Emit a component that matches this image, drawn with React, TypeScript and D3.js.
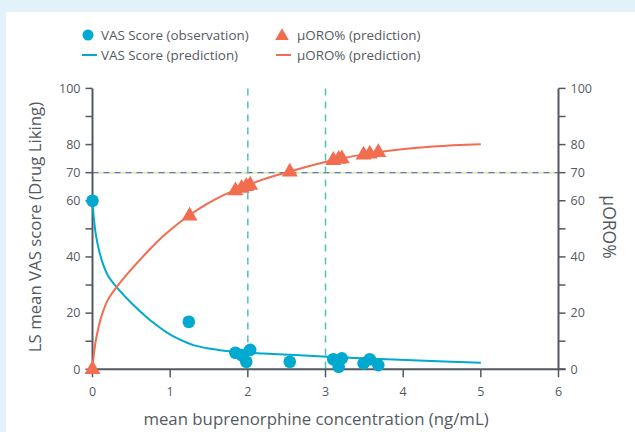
import React from "react";
import * as d3 from "d3";

const xTicks = [0, 1, 2, 3, 4, 5, 6];
const yTicksMajor = [0, 20, 40, 60, 70, 80, 100];
const yTicksAll = [0, 10, 20, 30, 40, 50, 60, 70, 80, 90, 100];

const vasObsConc = [0, 1.24, 1.84, 1.92, 1.98, 2.03, 2.54, 3.1, 3.17, 3.21, 3.49, 3.57, 3.68];
const vasObsValue = [60, 16.9, 5.9, 5.1, 2.7, 6.9, 2.7, 3.6, 0.9, 3.9, 2.1, 3.6, 1.5];

const oroPredConc = [0, 1.25, 1.84, 1.92, 1.98, 2.03, 2.54, 3.1, 3.17, 3.21, 3.49, 3.57, 3.68];
const oroPredValue = [0, 54.6, 63.6, 64.5, 65.1, 65.6, 70.3, 74.4, 74.8, 75.0, 76.3, 76.7, 77.2];

const vasCurveConc = [0, 0.015, 0.04, 0.08, 0.13, 0.2, 0.33, 0.5, 0.72, 0.87, 0.975, 1.1, 1.3, 1.5, 1.81, 2.2, 2.67, 3.1, 3.53, 4.2, 5];
const vasCurveValue = [60, 54.5, 48.5, 42.8, 37.9, 33.3, 28.6, 23.6, 18.0, 14.8, 12.8, 10.9, 8.6, 7.4, 6.3, 5.6, 5.0, 4.4, 3.85, 3.1, 2.35];

const oroCurveConc = [0, 0.015, 0.04, 0.075, 0.12, 0.2, 0.33, 0.5, 0.72, 0.87, 0.975, 1.215, 1.385, 1.58, 1.81, 2.2, 2.54, 3.02, 3.7, 4.39, 5];
const oroCurveValue = [0, 4.8, 9.8, 14.6, 19.3, 24.8, 30.0, 35.6, 42.2, 46.4, 49.0, 54.2, 57.4, 60.5, 63.5, 67.6, 70.4, 74.0, 77.4, 79.3, 80.1];

const refLevel = 70;
const refConc = [2, 3];

const BLUE = "#00a9d0";
const ORANGE = "#f26c50";
const AXIS = "#535862";
const TEXT = "#555a62";
const FONT = "'Open Sans', 'Noto Sans', sans-serif";

export default function App() {
  const W = 635, H = 432;
  const x = d3.scaleLinear().domain([0, 6]).range([92.5, 558.5]);
  const y = d3.scaleLinear().domain([0, 100]).range([369.3, 88.4]);

  const line = d3
    .line<[number, number]>()
    .x((d) => x(d[0]))
    .y((d) => y(d[1]))
    .curve(d3.curveCatmullRom.alpha(0.5));

  const vasPts = vasCurveConc.map((c, i) => [c, vasCurveValue[i]] as [number, number]);
  const oroPts = oroCurveConc.map((c, i) => [c, oroCurveValue[i]] as [number, number]);
  const tri = d3.symbol(d3.symbolTriangle, 110)();

  return (
    <svg width={W} height={H} style={{ position: "absolute", left: 0, top: 0, display: "block" }}>
      <rect x={0} y={0} width={W} height={H} fill="#e3f1f8" />
      <rect x={6} y={12} width={W - 6} height={H - 12} fill="#ffffff" />

      {/* legend */}
      <g fontFamily={FONT} fontSize={13.4} fill={TEXT}>
        <circle cx={88} cy={35} r={5.5} fill={BLUE} />
        <text x={101} y={40}>VAS Score (observation)</text>
        <line x1={82} x2={97} y1={55} y2={55} stroke={BLUE} strokeWidth={2} />
        <text x={101} y={60}>VAS Score (prediction)</text>
        <path d={d3.symbol(d3.symbolTriangle, 80)() || ""} transform="translate(282,36)" fill={ORANGE} />
        <text x={297} y={40}>µORO% (prediction)</text>
        <line x1={276} x2={291} y1={55} y2={55} stroke={ORANGE} strokeWidth={2} />
        <text x={297} y={60}>µORO% (prediction)</text>
      </g>

      {/* reference lines */}
      <line x1={x(0)} x2={x(6)} y1={y(refLevel)} y2={y(refLevel)} stroke="#d9efb8" strokeWidth={2} />
      <line x1={x(0)} x2={x(6)} y1={y(refLevel)} y2={y(refLevel)} stroke="#6f73c8" strokeWidth={1.3} strokeDasharray="6,5" />
      {refConc.map((c) => (
        <line key={c} x1={x(c)} x2={x(c)} y1={y(100)} y2={y(0)} stroke="#4fc3b8" strokeWidth={1.5} strokeDasharray="7,6" />
      ))}

      {/* axes */}
      <g stroke={AXIS} strokeWidth={2} fill="none">
        <line x1={x(0)} x2={x(0)} y1={y(100)} y2={y(0) + 1} />
        <line x1={x(6)} x2={x(6)} y1={y(100)} y2={y(0) + 1} />
        <line x1={x(0)} x2={x(6) + 7} y1={y(0)} y2={y(0)} />
        {yTicksAll.map((t) => (
          <line key={"l" + t} x1={x(0) - 7} x2={x(0)} y1={y(t)} y2={y(t)} strokeWidth={1.5} />
        ))}
        {yTicksAll.map((t) => (
          <line key={"r" + t} x1={x(6)} x2={x(6) + 7} y1={y(t)} y2={y(t)} strokeWidth={1.5} />
        ))}
        {xTicks.map((t) => (
          <line key={"x" + t} x1={x(t)} x2={x(t)} y1={y(0)} y2={y(0) + 8} strokeWidth={1.5} />
        ))}
      </g>
      <g fontFamily={FONT} fontSize={12.5} fill={TEXT}>
        {yTicksMajor.map((t) => (
          <text key={"lt" + t} x={x(0) - 12} y={y(t)} dy="0.35em" textAnchor="end">{t}</text>
        ))}
        {yTicksMajor.map((t) => (
          <text key={"rt" + t} x={x(6) + 12} y={y(t)} dy="0.35em" textAnchor="start">{t}</text>
        ))}
        {xTicks.map((t) => (
          <text key={"xt" + t} x={x(t)} y={396} textAnchor="middle">{t}</text>
        ))}
      </g>
      <g fontFamily={FONT} fontSize={16.8} fill={TEXT}>
        <text x={316} y={425} textAnchor="middle">mean buprenorphine concentration (ng/mL)</text>
        <text transform="translate(41,227) rotate(-90)" textAnchor="middle">LS mean VAS score (Drug Liking)</text>
        <text transform="translate(603,227) rotate(90)" textAnchor="middle" fontSize={17.5}>µORO%</text>
      </g>

      {/* curves */}
      <path d={line(vasPts) || ""} fill="none" stroke={BLUE} strokeWidth={2} />
      <path d={line(oroPts) || ""} fill="none" stroke={ORANGE} strokeWidth={2} />

      {/* points */}
      {vasObsConc.map((c, i) => (
        <circle key={"v" + i} cx={x(c)} cy={y(vasObsValue[i])} r={6.3} fill={BLUE} />
      ))}
      {oroPredConc.map((c, i) => (
        <path key={"o" + i} d={tri || ""} transform={`translate(${x(c)},${y(oroPredValue[i])})`} fill={ORANGE} />
      ))}
    </svg>
  );
}
